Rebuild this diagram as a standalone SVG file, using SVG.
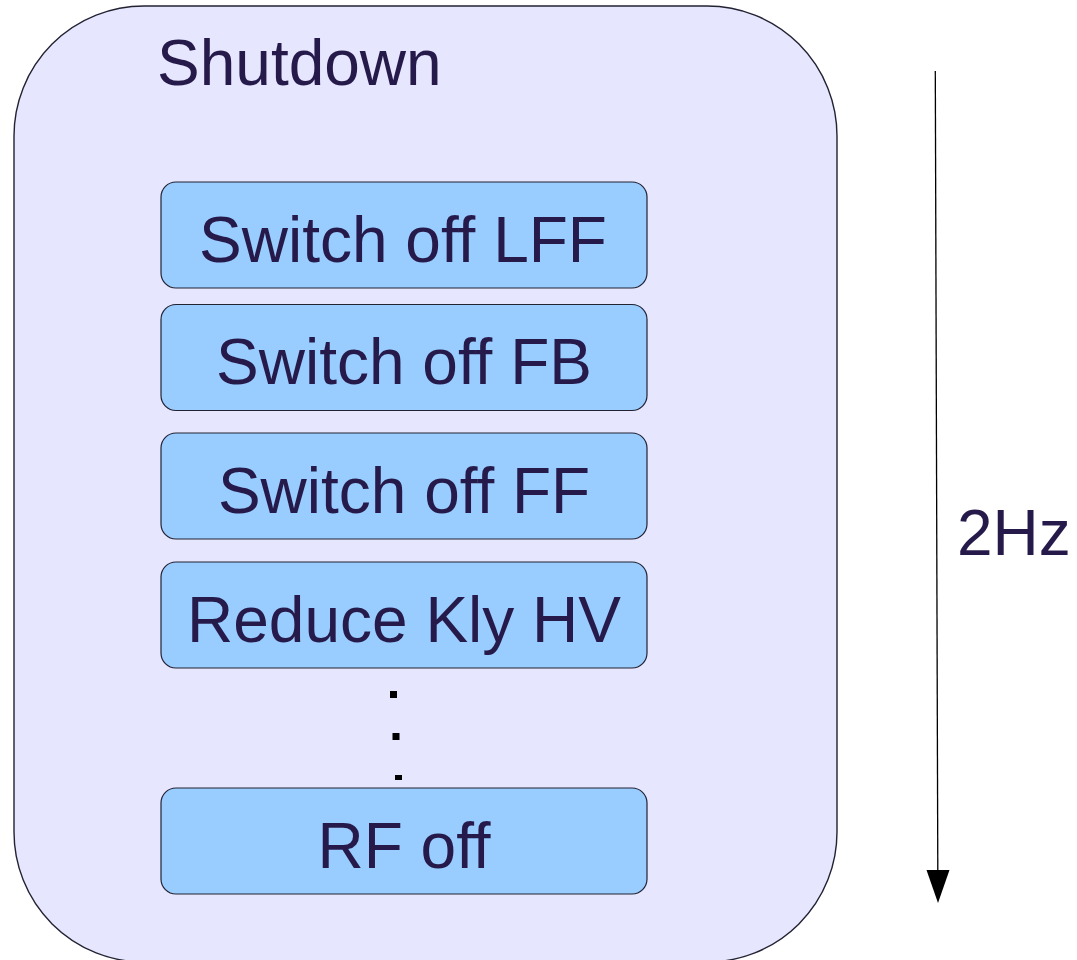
<svg xmlns="http://www.w3.org/2000/svg" width="1077" height="960" viewBox="0 0 1077 960">
  <style>
    .lbl { font-family: "Liberation Sans", Arial, sans-serif; font-size: 64px; fill: #261a4a; }
    .step { fill: #99ccff; stroke: #222233; stroke-width: 1.2; }
    .dot { fill: #000000; }
  </style>
  <rect width="1077" height="960" fill="#ffffff"/>

  <!-- outer state -->
  <g id="shutdown">
    <rect x="14" y="6" width="823" height="956" rx="130" ry="130" fill="#e6e6ff" stroke="#222233" stroke-width="1.4"/>
    <text class="lbl" x="157" y="85">Shutdown</text>
  </g>

  <g id="step-lff">
    <rect class="step" x="161" y="182" width="486" height="106" rx="15" ry="15"/>
    <text class="lbl" x="403" y="262" text-anchor="middle">Switch off LFF</text>
  </g>
  <g id="step-fb">
    <rect class="step" x="161" y="304.5" width="486" height="106" rx="15" ry="15"/>
    <text class="lbl" x="404" y="384" text-anchor="middle">Switch off FB</text>
  </g>
  <g id="step-ff">
    <rect class="step" x="161" y="433" width="486" height="106" rx="15" ry="15"/>
    <text class="lbl" x="404" y="512.5" text-anchor="middle">Switch off FF</text>
  </g>
  <g id="step-hv">
    <rect class="step" x="161" y="562" width="486" height="106" rx="15" ry="15"/>
    <text class="lbl" x="404" y="641.5" text-anchor="middle">Reduce Kly HV</text>
  </g>
  <g id="ellipsis">
    <rect class="dot" x="390" y="691" width="7" height="7"/>
    <rect class="dot" x="392.5" y="733" width="7" height="7"/>
    <rect class="dot" x="395" y="775" width="7" height="5"/>
  </g>
  <g id="step-rf">
    <rect class="step" x="161" y="788" width="486" height="106" rx="15" ry="15"/>
    <text class="lbl" x="404" y="867.5" text-anchor="middle">RF off</text>
  </g>

  <!-- timing arrow -->
  <g id="connectors">
    <line x1="935.3" y1="71" x2="937.8" y2="872" stroke="#000000" stroke-width="1.3"/>
    <path d="M926.5,870 L949.5,870 L938,903 Z" fill="#000000"/>
  </g>
  <g id="rate">
    <text class="lbl" x="957" y="555">2Hz</text>
  </g>
</svg>
